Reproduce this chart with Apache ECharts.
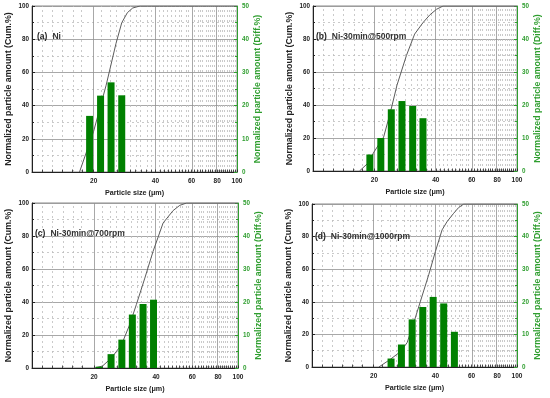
<!DOCTYPE html>
<html><head><meta charset="utf-8">
<script src="https://cdn.jsdelivr.net/npm/echarts@6/dist/echarts.min.js"></script>
<style>html,body{margin:0;padding:0;background:#fff}#c{width:550px;height:398px}</style>
</head><body><div id="c"></div>
<script>
// ---- data ----
const panelTags = ['(a)', '(b)', '(c)', '(d)'];
const panelNames = ['Ni', 'Ni-30min@500rpm', 'Ni-30min@700rpm', 'Ni-30min@1000rpm'];
const xTitle = 'Particle size (μm)';
const yLeftTitle = 'Normalized particle amount (Cum.%)';
const yRightTitle = 'Normalized particle amount (Diff.%)';
const xTickLabels = [20, 40, 60, 80, 100];
const xMajorGrid = [20, 40, 60, 80];
const xMinorGrid = [11.2, 12.5, 14, 15.7, 17.5,
  22, 24, 26, 28, 30, 32, 34, 36, 38,
  42, 44, 46, 48, 50, 52, 54, 56, 58,
  62, 64, 66, 68, 70, 72, 74, 76, 78,
  82, 84, 86, 88, 90, 92, 94, 96, 98];

// (a) Ni
const sizeA = [19.1, 21.6, 24.3, 27.4];
const diffA = [16.9, 23.0, 27.0, 23.1];
const cumSizeA = [17.05, 19.95, 23.0, 25.7, 27.4, 29.2, 31.0, 33.6, 100];
const cumA = [0, 24.2, 52.3, 77.5, 89.9, 96.0, 98.8, 100, 100];
// (b) 500 rpm
const sizeB = [19.0, 21.5, 24.2, 27.3, 30.8, 34.6];
const diffB = [5.0, 10.0, 18.7, 21.2, 19.7, 16.0];
const cumSizeB = [16.9, 18.5, 19.9, 22.2, 24.0, 25.8, 28.7, 31.5, 34.6, 37.3, 40.3, 43.4, 100];
const cumB = [0, 4.5, 11.5, 20.6, 36.0, 52.0, 70.0, 83.0, 89.9, 94.5, 98.0, 100, 100];
// (c) 700 rpm
const sizeC = [21.2, 24.2, 27.3, 30.7, 34.6, 38.9];
const diffC = [0.4, 4.2, 8.6, 16.2, 19.4, 20.7];
const cumSizeC = [20.15, 22.0, 24.3, 27.2, 29.8, 32.1, 35.3, 38.7, 43.3, 48.4, 52.2, 56.3, 100];
const cumC = [0, 1.2, 6.1, 14.1, 26.3, 38.4, 54.5, 70.7, 87.9, 95.4, 98.6, 100, 100];
// (d) 1000 rpm
const sizeD = [24.3, 27.3, 30.8, 34.7, 39.0, 43.9, 49.5];
const diffD = [2.6, 6.9, 14.6, 18.4, 21.5, 19.5, 10.8];
const cumSizeD = [21.2, 24.1, 27.0, 29.1, 31.35, 33.8, 37.1, 40.0, 43.1, 45.6, 49.1, 51.9, 55.0, 100];
const cumD = [0, 4.7, 9.4, 14.9, 27.1, 40.3, 56.6, 70.9, 84.1, 89.2, 94.3, 97.8, 100, 100];

const sizes = [sizeA, sizeB, sizeC, sizeD];
const diffs = [diffA, diffB, diffC, diffD];
const cumSizes = [cumSizeA, cumSizeB, cumSizeC, cumSizeD];
const cums = [cumA, cumB, cumC, cumD];

// ---- layout / styles ----
const FONT = 'Liberation Sans, Arial, Helvetica, sans-serif';
const GREEN_AXIS = '#2f9e2f';
const BAR_GREEN = '#008000';
const DARK = '#222222';
const grids = [
  {left: 32, top: 6, width: 205, height: 166},
  {left: 313, top: 6, width: 204, height: 165},
  {left: 32, top: 203, width: 206, height: 165},
  {left: 312, top: 204, width: 205, height: 163}
];
const tagPos = [[37, 28], [316, 28], [35, 225], [315, 228]];
const lg = v => Math.log10(v);

const option = {
  animation: false,
  textStyle: {fontFamily: FONT},
  grid: grids.map(g => Object.assign({show: true, borderColor: '#8a8a8a', borderWidth: 1, backgroundColor: 'transparent'}, g)),
  title: panelTags.map((t, i) => ({
    text: '{b|' + t + '} {n|' + panelNames[i] + '}',
    left: tagPos[i][0], top: tagPos[i][1], padding: 0,
    textStyle: {rich: {
      b: {fontWeight: 'bold', fontSize: 8.5, color: DARK, fontFamily: FONT},
      n: {fontSize: 8.5, color: '#333', fontFamily: FONT}
    }}
  })),
  xAxis: grids.map((g, i) => ({
    gridIndex: i, type: 'value', min: 1, max: 2,
    axisLine: {show: true, onZero: false, lineStyle: {color: DARK, width: 1}},
    axisTick: {show: true, inside: true, length: 2.5, customValues: xTickLabels.concat(xMinorGrid).map(lg), lineStyle: {color: DARK, width: 0.8}},
    axisLabel: {customValues: xTickLabels.map(lg), formatter: v => String(Math.round(Math.pow(10, v))),
      fontSize: 6.5, fontWeight: 'bold', color: DARK, margin: 6, fontFamily: FONT},
    splitLine: {show: false},
    name: xTitle, nameLocation: 'middle', nameGap: 18,
    nameTextStyle: {fontSize: 7.2, fontWeight: 'bold', color: DARK, fontFamily: FONT}
  })),
  yAxis: [],
  series: []
};

grids.forEach((g, i) => {
  option.yAxis.push({
    gridIndex: i, type: 'value', position: 'left', min: 0, max: 100, interval: 20,
    axisLine: {show: true, lineStyle: {color: DARK, width: 1}},
    axisTick: {show: true, inside: true, length: 3, lineStyle: {color: DARK}},
    minorTick: {show: true, splitNumber: 2, length: 2, lineStyle: {color: DARK}},
    splitLine: {show: true, lineStyle: {color: '#929292', width: 0.8}},
    minorSplitLine: {show: true, lineStyle: {color: '#bdbdbd', width: 0.8, type: [2, 3]}},
    axisLabel: {fontSize: 6.3, fontWeight: 'bold', color: DARK, margin: 3, fontFamily: FONT},
    name: yLeftTitle, nameLocation: 'middle', nameGap: 19,
    nameTextStyle: {fontSize: 8.8, fontWeight: 'bold', color: DARK, fontFamily: FONT}
  });
  option.yAxis.push({
    gridIndex: i, type: 'value', position: 'right', min: 0, max: 50, interval: 10,
    axisLine: {show: true, lineStyle: {color: GREEN_AXIS, width: 1}},
    axisTick: {show: true, inside: true, length: 3, lineStyle: {color: GREEN_AXIS}},
    minorTick: {show: true, splitNumber: 2, length: 2, lineStyle: {color: GREEN_AXIS}},
    splitLine: {show: false},
    axisLabel: {fontSize: 6.3, fontWeight: 'bold', color: GREEN_AXIS, margin: 5, fontFamily: FONT},
    name: yRightTitle, nameLocation: 'middle', nameGap: 15,
    nameTextStyle: {fontSize: 8.8, fontWeight: 'bold', color: GREEN_AXIS, fontFamily: FONT}
  });

  const gridLines = xMajorGrid.map(v => ({xAxis: lg(v), lineStyle: {type: 'solid', color: '#929292', width: 0.8}}))
    .concat(xMinorGrid.map(v => ({xAxis: lg(v), lineStyle: {type: [2, 3], color: '#bdbdbd', width: 0.8}})));

  option.series.push({
    type: 'line', xAxisIndex: i, yAxisIndex: 2 * i, z: 1,
    data: cumSizes[i].map((s, k) => [lg(s), cums[i][k]]),
    symbol: 'none', lineStyle: {color: '#5c5c5c', width: 1}, silent: true,
    markLine: {silent: true, z: 0, symbol: ['none', 'none'], label: {show: false}, animation: false,
      emphasis: {disabled: true}, data: gridLines}
  });
  option.series.push({
    type: 'bar', xAxisIndex: i, yAxisIndex: 2 * i + 1, z: 2,
    data: sizes[i].map((s, k) => [lg(s), diffs[i][k]]),
    barWidth: 7, itemStyle: {color: BAR_GREEN}, silent: true
  });
});

const chart = echarts.init(document.getElementById('c'), null, {renderer: 'canvas'});
chart.setOption(option);
</script>
</body></html>
